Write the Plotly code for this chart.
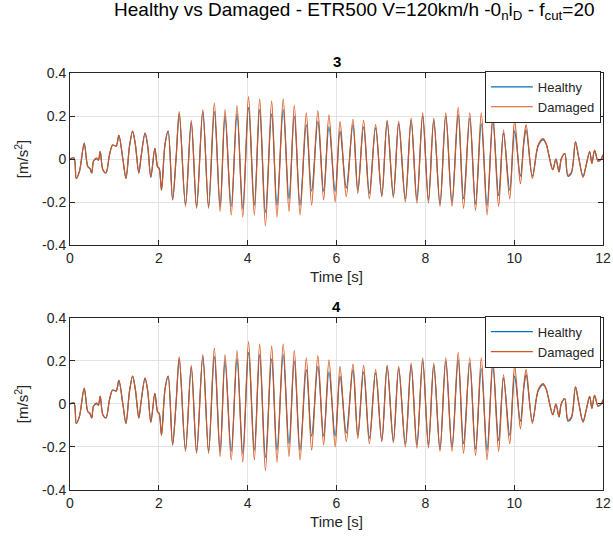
import plotly.graph_objects as go
from plotly.subplots import make_subplots

time_s = [0.00, 0.09, 0.14, 0.21, 0.32, 0.40, 0.45, 0.49, 0.53, 0.60, 0.64, 0.68, 0.74, 0.81,
          0.89, 0.96, 1.04, 1.10, 1.19, 1.26, 1.34, 1.41, 1.47, 1.55, 1.60, 1.69, 1.75, 1.82,
          1.91, 1.97, 2.01, 2.06, 2.14, 2.21, 2.31, 2.39, 2.46, 2.60, 2.73, 2.85, 2.99, 3.12,
          3.25, 3.38, 3.49, 3.63, 3.76, 3.89, 4.02, 4.15, 4.27, 4.40, 4.54, 4.66, 4.80, 4.93,
          5.05, 5.18, 5.32, 5.44, 5.58, 5.71, 5.83, 5.97, 6.08, 6.22, 6.37, 6.48, 6.61, 6.74,
          6.88, 7.02, 7.14, 7.28, 7.40, 7.55, 7.68, 7.81, 7.94, 8.07, 8.19, 8.33, 8.46, 8.60,
          8.74, 8.86, 9.00, 9.13, 9.26, 9.39, 9.52, 9.65, 9.76, 9.90, 10.01, 10.14, 10.22,
          10.27, 10.41, 10.54, 10.65, 10.72, 10.80, 10.87, 10.94, 11.01, 11.06, 11.14, 11.21,
          11.29, 11.38, 11.45, 11.55, 11.63, 11.70, 11.75, 11.81, 11.89, 11.96, 12.00]

healthy = [0.0, 0.005, -0.09, -0.06, 0.07, -0.035, -0.045, -0.065, -0.01, 0.0, -0.005, 0.035,
           -0.05, -0.065, 0.02, 0.065, 0.06, 0.11, 0.0, -0.09, 0.06, 0.13, 0.07, -0.065, 0.01,
           0.12, 0.06, -0.085, 0.05, -0.035, -0.045, -0.145, 0.07, 0.13, -0.19, 0.01, 0.21,
           -0.21, 0.17, -0.22, 0.22, -0.22, 0.22, -0.22, 0.20, -0.22, 0.21, -0.23, 0.24, -0.215,
           0.23, -0.25, 0.21, -0.215, 0.23, -0.185, 0.20, -0.215, 0.16, -0.15, 0.175, -0.15,
           0.15, -0.15, 0.13, -0.135, 0.16, -0.145, 0.15, -0.16, 0.145, -0.17, 0.175, -0.17,
           0.165, -0.185, 0.18, -0.19, 0.20, -0.19, 0.18, -0.21, 0.20, -0.20, 0.205, -0.185,
           0.19, -0.21, 0.165, -0.215, 0.175, -0.17, 0.12, -0.145, 0.13, -0.08, 0.08, 0.135,
           -0.08, 0.06, 0.09, 0.07, 0.0, -0.05, 0.0, -0.06, 0.0, 0.025, -0.08, -0.065, 0.08,
           0.01, -0.08, -0.02, 0.035, -0.02, 0.04, -0.01, 0.0, 0.02]

damaged = [0.0, 0.005, -0.09, -0.06, 0.075, -0.035, -0.045, -0.065, -0.01, 0.005, -0.005, 0.035,
           -0.05, -0.065, 0.02, 0.065, 0.06, 0.11, 0.0, -0.09, 0.06, 0.13, 0.07, -0.065, 0.01,
           0.12, 0.06, -0.085, 0.05, -0.035, -0.045, -0.145, 0.07, 0.13, -0.19, 0.01, 0.22,
           -0.22, 0.18, -0.23, 0.23, -0.23, 0.26, -0.245, 0.23, -0.26, 0.25, -0.27, 0.29, -0.26,
           0.28, -0.31, 0.27, -0.27, 0.28, -0.245, 0.25, -0.26, 0.215, -0.215, 0.225, -0.19,
           0.205, -0.20, 0.175, -0.175, 0.185, -0.16, 0.18, -0.185, 0.16, -0.175, 0.18, -0.18,
           0.175, -0.20, 0.19, -0.205, 0.215, -0.205, 0.19, -0.22, 0.215, -0.22, 0.24, -0.23,
           0.215, -0.24, 0.215, -0.26, 0.21, -0.22, 0.135, -0.185, 0.18, -0.115, 0.09, 0.16,
           -0.09, 0.065, 0.095, 0.07, 0.0, -0.05, 0.0, -0.06, 0.0, 0.025, -0.075, -0.06, 0.08,
           0.01, -0.085, -0.02, 0.035, -0.02, 0.04, -0.01, 0.0, 0.02]

sensors = ["3", "4"]
x_ticks = [0, 2, 4, 6, 8, 10, 12]
y_ticks = [-0.4, -0.2, 0, 0.2, 0.4]
y_tick_text = ["-0.4", "-0.2", "0", "0.2", "0.4"]

BLUE = "#0072BD"
ORANGE = "#D95319"
AXIS = "#262626"
FONT = "Arial, Liberation Sans, sans-serif"

fig = make_subplots(rows=2, cols=1, vertical_spacing=0.175)

for i, sensor in enumerate(sensors):
    row = i + 1
    leg = "legend" if row == 1 else "legend2"
    fig.add_trace(go.Scatter(x=time_s, y=healthy, mode="lines", name="Healthy",
                             line=dict(color=BLUE, width=1.2, shape="spline", smoothing=0.9),
                             legend=leg), row=row, col=1)
    fig.add_trace(go.Scatter(x=time_s, y=damaged, mode="lines", name="Damaged",
                             line=dict(color=ORANGE, width=1.2, shape="spline", smoothing=0.9),
                             legend=leg), row=row, col=1)
    fig.update_xaxes(range=[0, 12], tickvals=x_ticks, title_text="Time [s]",
                     title_standoff=6, row=row, col=1)
    fig.update_yaxes(range=[-0.4, 0.4], tickvals=y_ticks, ticktext=y_tick_text,
                     title_text="[m/s<sup>2</sup>]", title_standoff=9, row=row, col=1)

axis_style = dict(showline=True, linecolor=AXIS, linewidth=1, mirror="ticks", ticks="inside",
                  ticklen=5, tickcolor=AXIS, showgrid=True, gridcolor="#e3e3e3", zeroline=False,
                  automargin=False, ticklabeloverflow="allow",
                  tickfont=dict(size=14, color=AXIS), title_font=dict(size=15, color=AXIS))
fig.update_xaxes(**axis_style)
fig.update_yaxes(**axis_style)

legend_style = dict(x=0.996, xanchor="right", bgcolor="white", bordercolor=AXIS, borderwidth=1,
                    font=dict(size=13, color=AXIS, family=FONT), tracegroupgap=0,
                    itemwidth=42)

fig.update_layout(
    width=613,
    height=540,
    margin=dict(l=70, r=10, t=73, b=50, autoexpand=False),
    plot_bgcolor="white",
    paper_bgcolor="white",
    font=dict(family=FONT, color=AXIS),
    title=dict(text="Healthy vs Damaged - ETR500 V=120km/h -0<sub>n</sub>i<sub>D</sub> - f<sub>cut</sub>=20",
               x=0.578, xanchor="center", y=0.995, yanchor="top",
               font=dict(size=19, color="black", family=FONT)),
    legend=dict(y=1.005, yanchor="top", **legend_style),
    legend2=dict(y=0.418, yanchor="top", **legend_style),
)

fig.update_layout(yaxis=dict(domain=[0.5875, 1.0]), yaxis2=dict(domain=[0.0, 0.4125]))

for sensor, y in zip(sensors, [1.0, 0.4125]):
    fig.add_annotation(text="<b>" + sensor + "</b>", x=0.5, y=y, xref="paper", yref="paper",
                       xanchor="center", yanchor="bottom", yshift=1, showarrow=False,
                       font=dict(size=15, color="black", family=FONT))

# drop the default body margin so the 613x540 figure fills the window exactly
fig.write_html("out.html", config={"displayModeBar": False},
               post_script="document.body.style.margin = '0';")
